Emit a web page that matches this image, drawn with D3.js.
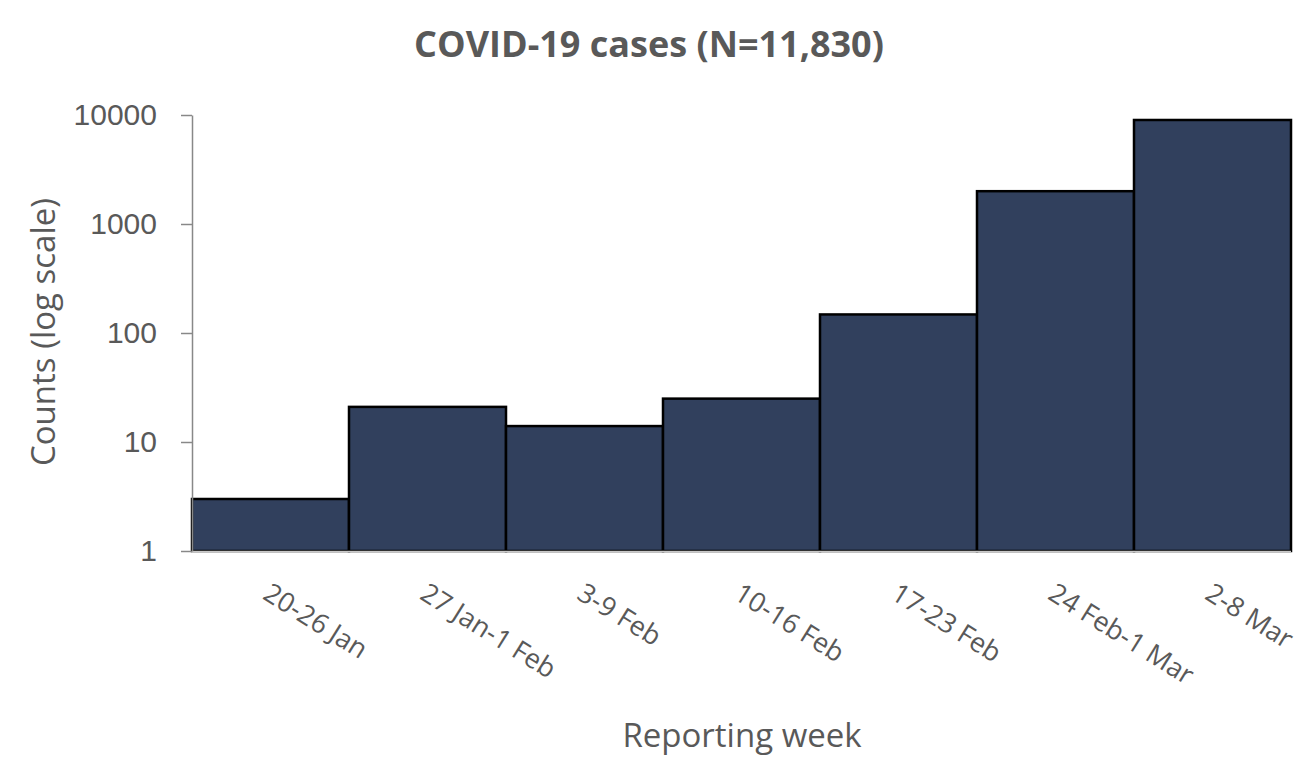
<!DOCTYPE html>
<html>
<head>
<meta charset="utf-8">
<script src="https://cdn.jsdelivr.net/npm/d3@7"></script>
<style>
  body { margin: 0; background: #fff; }
  text { font-family: "Open Sans", Lato, sans-serif; fill: #595959; }
</style>
</head>
<body>
<svg id="chart" width="1310" height="759"></svg>
<script>
var weeks = ["20-26 Jan", "27 Jan-1 Feb", "3-9 Feb", "10-16 Feb", "17-23 Feb", "24 Feb-1 Mar", "2-8 Mar"];
var counts = [3, 21, 14, 25, 148, 2000, 9000];
var yTicks = [1, 10, 100, 1000, 10000];

var svg = d3.select("#chart");
var margin = {left: 192, right: 19, top: 115, bottom: 208};
var W = +svg.attr("width"), H = +svg.attr("height");

var x = d3.scaleBand()
    .domain(weeks)
    .range([margin.left, W - margin.right])
    .padding(0);

var y = d3.scaleLog()
    .domain([1, 10000])
    .range([H - margin.bottom, margin.top]);

// bars
svg.append("g").selectAll("rect")
    .data(counts)
  .enter().append("rect")
    .attr("x", function(d, i) { return x(weeks[i]); })
    .attr("y", function(d) { return y(d); })
    .attr("width", x.bandwidth())
    .attr("height", function(d) { return y(1) - y(d); })
    .attr("fill", "#31405d")
    .attr("stroke", "#000")
    .attr("stroke-width", 2.5);

// x axis line
svg.append("line")
    .attr("x1", margin.left).attr("x2", W - margin.right)
    .attr("y1", y(1) + 0.5).attr("y2", y(1) + 0.5)
    .attr("stroke", "#c8c8c8").attr("stroke-width", 1.5);

// y axis
var yAxis = svg.append("g")
    .attr("transform", "translate(" + margin.left + ",0)")
    .call(d3.axisLeft(y).tickValues(yTicks).tickFormat(d3.format("d")).tickSize(11).tickSizeOuter(0));
yAxis.select(".domain").attr("stroke", "#888").attr("stroke-width", 1.5);
yAxis.selectAll(".tick line").attr("stroke", "#888").attr("stroke-width", 1.5);
yAxis.selectAll(".tick text")
    .attr("x", -35)
    .style("font-family", "'Liberation Sans', Arial, sans-serif")
    .style("font-size", "30px")
    .attr("fill", "#666");

// x tick labels, rotated
svg.append("g").selectAll("text")
    .data(weeks)
  .enter().append("text")
    .attr("transform", function(d) {
        return "translate(" + (x(d) + x.bandwidth() / 2 - 4) + "," + 590 + ") rotate(32)";
    })
    .attr("text-anchor", "start")
    .attr("dy", "0.35em")
    .style("font-size", "27px")
    .text(function(d) { return d; });

// titles
svg.append("text")
    .attr("x", 649).attr("y", 57)
    .attr("text-anchor", "middle")
    .style("font-size", "36px")
    .style("font-weight", "bold")
    .text("COVID-19 cases (N=11,830)");

svg.append("text")
    .attr("x", 742).attr("y", 747)
    .attr("text-anchor", "middle")
    .style("font-size", "33px")
    .text("Reporting week");

svg.append("text")
    .attr("transform", "translate(55,332) rotate(-90)")
    .attr("text-anchor", "middle")
    .style("font-size", "33px")
    .text("Counts (log scale)");
</script>
</body>
</html>
